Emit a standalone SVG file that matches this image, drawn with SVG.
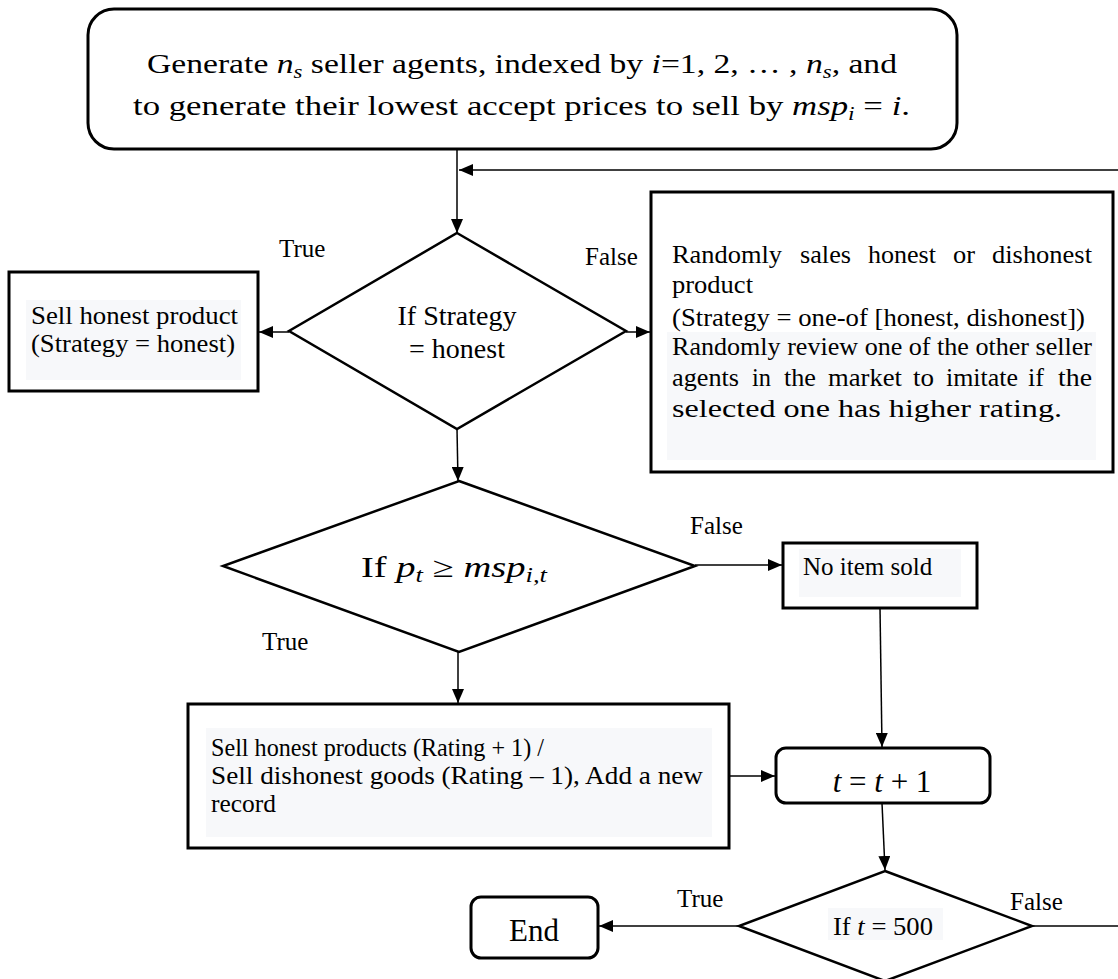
<svg xmlns="http://www.w3.org/2000/svg" width="1118" height="979" viewBox="0 0 1118 979">
<style>
.t{font-family:"Liberation Serif","Times New Roman",serif;fill:#000}
.i{font-style:italic}
.box{fill:#fff;stroke:#000;stroke-width:3}
.dia{fill:#fff;stroke:#000;stroke-width:2.5}
.hl{fill:#f7f8fa}
.conn{stroke:#000;stroke-width:1.5;fill:none}
</style>
<defs>
<marker id="ah" markerWidth="14" markerHeight="12" refX="14" refY="6" orient="auto" markerUnits="userSpaceOnUse">
<path d="M0,0 L14,6 L0,12 Z" fill="#000"/>
</marker>
</defs>
<rect width="1118" height="979" fill="#fff"/>

<g id="connectors">
<line class="conn" x1="457" y1="150" x2="457" y2="233" marker-end="url(#ah)"/>
<line class="conn" x1="1118" y1="170" x2="459" y2="170" marker-end="url(#ah)"/>
<line class="conn" x1="289" y1="332" x2="259" y2="332" marker-end="url(#ah)"/>
<line class="conn" x1="626" y1="332" x2="650" y2="332" marker-end="url(#ah)"/>
<line class="conn" x1="457" y1="429" x2="458" y2="481" marker-end="url(#ah)"/>
<line class="conn" x1="695" y1="565" x2="782" y2="565" marker-end="url(#ah)"/>
<line class="conn" x1="458" y1="652" x2="458" y2="703" marker-end="url(#ah)"/>
<line class="conn" x1="729" y1="776" x2="775" y2="776" marker-end="url(#ah)"/>
<line class="conn" x1="880" y1="608" x2="882" y2="747" marker-end="url(#ah)"/>
<line class="conn" x1="882" y1="803" x2="885" y2="870" marker-end="url(#ah)"/>
<line class="conn" x1="739" y1="926" x2="599" y2="926" marker-end="url(#ah)"/>
<line class="conn" x1="1032" y1="926" x2="1118" y2="926"/>
</g>

<g id="start">
<rect class="box" x="88" y="9" width="869" height="140" rx="26"/>
<text class="t" x="147" y="73" font-size="28" textLength="750" lengthAdjust="spacingAndGlyphs">Generate  <tspan class="i">n</tspan><tspan class="i" font-size="19" dy="5">s</tspan><tspan dy="-5">  seller agents, indexed by </tspan><tspan class="i">i</tspan>=1, 2, … ,  <tspan class="i">n</tspan><tspan class="i" font-size="19" dy="5">s</tspan><tspan dy="-5">, and</tspan></text>
<text class="t" x="133" y="115" font-size="28" textLength="777" lengthAdjust="spacingAndGlyphs">to generate their lowest accept prices to sell by  <tspan class="i">msp</tspan><tspan class="i" font-size="19" dy="5">i</tspan><tspan dy="-5"> = </tspan><tspan class="i">i</tspan>.</text>
</g>

<g id="decision-strategy">
<polygon class="dia" points="457,233 626,331 457,429 289,331"/>
<text class="t" x="457" y="325" font-size="28" text-anchor="middle">If Strategy</text>
<text class="t" x="457" y="358" font-size="28" text-anchor="middle">= honest</text>
</g>

<g id="label-true-1"><text class="t" x="279" y="257" font-size="25">True</text></g>
<g id="label-false-1"><text class="t" x="585" y="265" font-size="25">False</text></g>

<g id="sell-honest">
<rect class="box" x="9" y="272" width="249" height="119"/>
<rect class="hl" x="26" y="300" width="215" height="80"/>
<text class="t" x="31" y="324" font-size="26" textLength="207" lengthAdjust="spacingAndGlyphs">Sell honest product</text>
<text class="t" x="31" y="352" font-size="26" textLength="204" lengthAdjust="spacingAndGlyphs">(Strategy = honest)</text>
</g>

<g id="random-sales">
<rect class="box" x="651" y="192" width="462" height="280"/>
<rect class="hl" x="667" y="332" width="429" height="128"/>
<g class="t" font-size="26">
<text x="672" y="263" textLength="110" lengthAdjust="spacingAndGlyphs">Randomly</text>
<text x="800" y="263" textLength="51" lengthAdjust="spacingAndGlyphs">sales</text>
<text x="868" y="263" textLength="68" lengthAdjust="spacingAndGlyphs">honest</text>
<text x="953" y="263" textLength="22" lengthAdjust="spacingAndGlyphs">or</text>
<text x="992" y="263" textLength="100" lengthAdjust="spacingAndGlyphs">dishonest</text>
<text x="672" y="293" textLength="81" lengthAdjust="spacingAndGlyphs">product</text>
<text x="672" y="326" textLength="413" lengthAdjust="spacingAndGlyphs">(Strategy = one-of [honest, dishonest])</text>
<text x="672" y="355" textLength="420" lengthAdjust="spacingAndGlyphs">Randomly review one of the other seller</text>
<text x="672" y="386" textLength="67" lengthAdjust="spacingAndGlyphs">agents</text>
<text x="752" y="386" textLength="19" lengthAdjust="spacingAndGlyphs">in</text>
<text x="784" y="386" textLength="32" lengthAdjust="spacingAndGlyphs">the</text>
<text x="828" y="386" textLength="74" lengthAdjust="spacingAndGlyphs">market</text>
<text x="913" y="386" textLength="21" lengthAdjust="spacingAndGlyphs">to</text>
<text x="946" y="386" textLength="72" lengthAdjust="spacingAndGlyphs">imitate</text>
<text x="1028" y="386" textLength="16" lengthAdjust="spacingAndGlyphs">if</text>
<text x="1058" y="386" textLength="34" lengthAdjust="spacingAndGlyphs">the</text>
<text x="672" y="417" textLength="390" lengthAdjust="spacingAndGlyphs">selected one has higher rating.</text>
</g>
</g>

<g id="decision-price">
<polygon class="dia" points="459,481 695,566 459,652 223,566"/>
<text class="t" x="361" y="577" font-size="29" textLength="186" lengthAdjust="spacingAndGlyphs">If  <tspan class="i">p</tspan><tspan class="i" font-size="20" dy="5">t</tspan><tspan dy="-5"> ≥ </tspan><tspan class="i">msp</tspan><tspan class="i" font-size="20" dy="5">i,t</tspan></text>
</g>

<g id="label-false-2"><text class="t" x="690" y="534" font-size="25">False</text></g>
<g id="label-true-2"><text class="t" x="262" y="650" font-size="25">True</text></g>

<g id="no-item-sold">
<rect class="box" x="783" y="543" width="194" height="65"/>
<rect class="hl" x="799" y="549" width="162" height="48"/>
<text class="t" x="803" y="575" font-size="25">No item sold</text>
</g>

<g id="sell-record">
<rect class="box" x="188" y="704" width="541" height="144"/>
<rect class="hl" x="206" y="728" width="506" height="109"/>
<text class="t" x="211" y="756" font-size="26" textLength="333" lengthAdjust="spacingAndGlyphs">Sell honest products (Rating + 1) /</text>
<text class="t" x="211" y="784" font-size="26" textLength="492" lengthAdjust="spacingAndGlyphs">Sell dishonest goods (Rating – 1), Add a new</text>
<text class="t" x="211" y="812" font-size="26" textLength="65" lengthAdjust="spacingAndGlyphs">record</text>
</g>

<g id="increment">
<rect class="box" x="776" y="748" width="214" height="55" rx="10"/>
<text class="t" x="882" y="792" font-size="31" text-anchor="middle"><tspan class="i">t</tspan> = <tspan class="i">t</tspan> + 1</text>
</g>

<g id="decision-end">
<polygon class="dia" points="885,871 1032,926 885,981 739,926"/>
<rect class="hl" x="828" y="908" width="115" height="32"/>
<text class="t" x="833" y="935" font-size="25" textLength="100" lengthAdjust="spacingAndGlyphs">If <tspan class="i">t</tspan> = 500</text>
</g>

<g id="label-true-3"><text class="t" x="677" y="907" font-size="25">True</text></g>
<g id="label-false-3"><text class="t" x="1010" y="910" font-size="25">False</text></g>

<g id="end">
<rect class="box" x="471" y="897" width="127" height="61" rx="10"/>
<text class="t" x="534" y="941" font-size="31" text-anchor="middle">End</text>
</g>
</svg>
